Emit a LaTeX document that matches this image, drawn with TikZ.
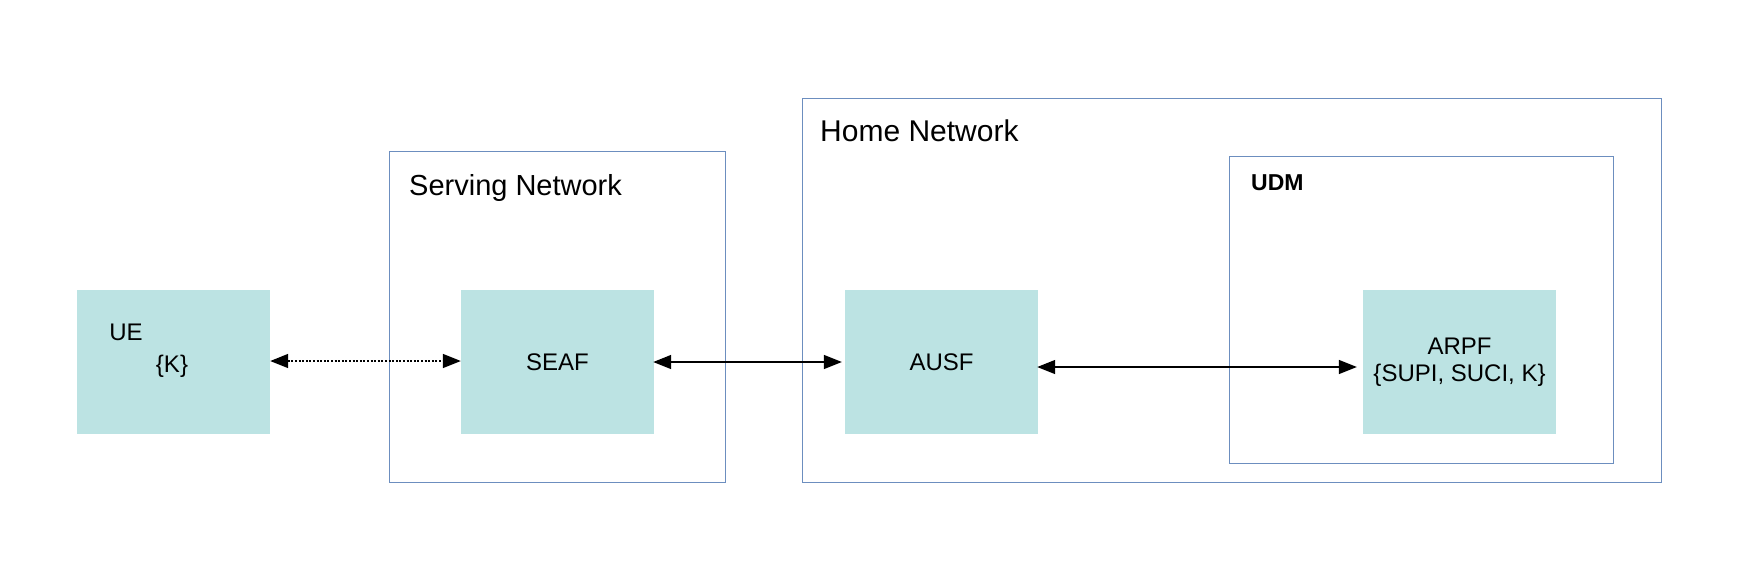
\documentclass[tikz,border=0pt]{standalone}
\usepackage{fontspec}
\setmainfont{Liberation Sans}
\usetikzlibrary{arrows.meta}
\definecolor{boxfill}{HTML}{BCE3E3}
\definecolor{frameblue}{HTML}{6C8EBF}
\begin{document}
\begin{tikzpicture}[x=1pt,y=-1pt,
  fnbox/.style={fill=boxfill, draw=none, inner sep=0pt, minimum width=193pt, minimum height=144pt, align=center, font=\fontsize{24}{27}\selectfont},
  frame/.style={draw=frameblue, line width=0.9pt, inner sep=0pt},
  txt/.style={inner sep=0pt, font=\fontsize{24}{27}\selectfont},
  conn/.style={line width=1.4pt, {Triangle[length=18pt,width=14pt]}-{Triangle[length=18pt,width=14pt]}}
]
\useasboundingbox (0,0) rectangle (1737,570);
\fill[white] (0,0) rectangle (1737,570);
% containers
\node[frame, minimum width=336pt, minimum height=331pt] (sn) at (557,316.5) {};
\node[frame, minimum width=859pt, minimum height=384pt] (hn) at (1231.5,290) {};
\node[frame, minimum width=384pt, minimum height=307pt] (udm) at (1421,309.5) {};
% titles
\node[inner sep=0pt, anchor=base west, font=\fontsize{29}{32}\selectfont] (snt) at (409,195) {Serving Network};
\node[inner sep=0pt, anchor=base west, font=\fontsize{30}{33}\selectfont] (hnt) at (820,141) {Home Network};
\node[inner sep=0pt, anchor=base west, font=\fontsize{23}{26}\bfseries] (udmt) at (1251,190) {UDM};
% function boxes
\node[fnbox] (ue) at (173.5,362) {};
\node[txt] (uet) at (126,332) {UE};
\node[txt] (uek) at (172,366) {\{K\}};
\node[fnbox] (seaf) at (557.5,362) {SEAF};
\node[fnbox] (ausf) at (941.5,362) {AUSF};
\node[fnbox] (arpf) at (1459.5,362) {ARPF\\\{SUPI, SUCI, K\}};
% connectors
\draw[conn, dash pattern=on 2pt off 1.6pt] (ue.east |- 0,361) -- (seaf.west |- 0,361);
\draw[conn] ([xshift=-1pt]seaf.east) -- ([xshift=-3pt]ausf.west);
\draw[conn] ([xshift=-1pt]ausf.east |- 0,367) -- ([xshift=-6pt]arpf.west |- 0,367);
\end{tikzpicture}
\end{document}
